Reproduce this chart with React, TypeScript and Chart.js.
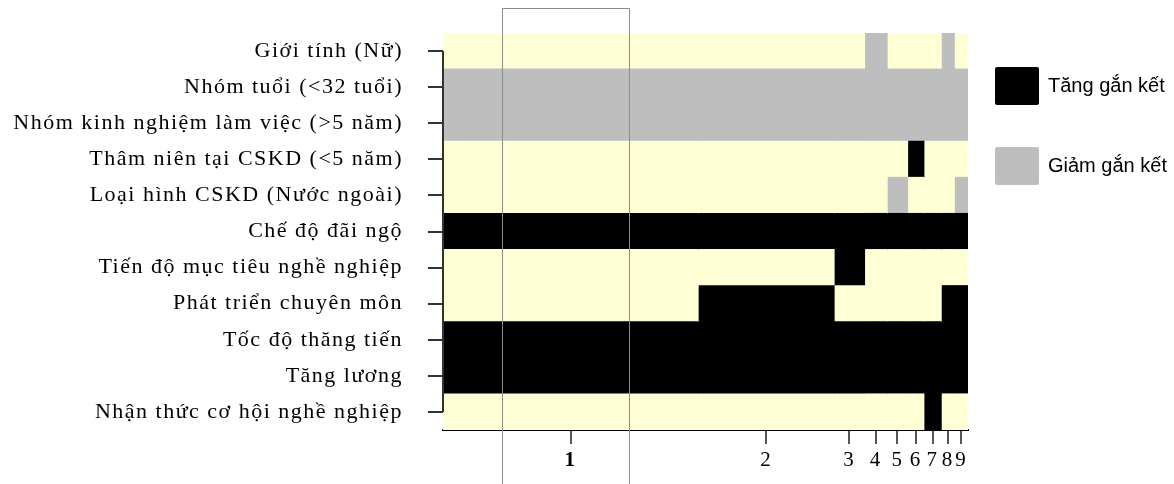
import React, { useEffect, useRef } from 'react';
import { Chart, registerables } from 'chart.js';

Chart.register(...registerables);

// ---- Data ----
const variableLabels = [
  'Giới tính (Nữ)',
  'Nhóm tuổi (<32 tuổi)',
  'Nhóm kinh nghiệm làm việc (>5 năm)',
  'Thâm niên tại CSKD (<5 năm)',
  'Loại hình CSKD (Nước ngoài)',
  'Chế độ đãi ngộ',
  'Tiến độ mục tiêu nghề nghiệp',
  'Phát triển chuyên môn',
  'Tốc độ thăng tiến',
  'Tăng lương',
  'Nhận thức cơ hội nghề nghiệp',
];

const modelLabels = ['1', '2', '3', '4', '5', '6', '7', '8', '9'];
// posterior probability (column width) of each model
const modelProbs = [0.486, 0.259, 0.058, 0.043, 0.039, 0.031, 0.033, 0.025, 0.026];

// 1 = positive (Tăng gắn kết), -1 = negative (Giảm gắn kết), 0 = not in model
const gioiTinh = [0, 0, 0, -1, 0, 0, 0, -1, 0];
const nhomTuoi = [-1, -1, -1, -1, -1, -1, -1, -1, -1];
const kinhNghiem = [-1, -1, -1, -1, -1, -1, -1, -1, -1];
const thamNien = [0, 0, 0, 0, 0, 1, 0, 0, 0];
const loaiHinh = [0, 0, 0, 0, -1, 0, 0, 0, -1];
const cheDoDaiNgo = [1, 1, 1, 1, 1, 1, 1, 1, 1];
const tienDoMucTieu = [0, 0, 1, 0, 0, 0, 0, 0, 0];
const phatTrienChuyenMon = [0, 1, 0, 0, 0, 0, 0, 1, 1];
const tocDoThangTien = [1, 1, 1, 1, 1, 1, 1, 1, 1];
const tangLuong = [1, 1, 1, 1, 1, 1, 1, 1, 1];
const nhanThucCoHoi = [0, 0, 0, 0, 0, 0, 1, 0, 0];

const effectRows = [
  gioiTinh, nhomTuoi, kinhNghiem, thamNien, loaiHinh, cheDoDaiNgo,
  tienDoMucTieu, phatTrienChuyenMon, tocDoThangTien, tangLuong, nhanThucCoHoi,
];

const legendLabels = ['Tăng gắn kết', 'Giảm gắn kết'];
const highlightRange = [0.1124, 0.354];

const COLOR_POS = '#000000';
const COLOR_NEG = '#BEBEBE';
const COLOR_NONE = '#FFFFD6';

const colorFor = (v: number) => (v > 0 ? COLOR_POS : v < 0 ? COLOR_NEG : COLOR_NONE);

export default function App() {
  const canvasRef = useRef<HTMLCanvasElement | null>(null);

  useEffect(() => {
    const canvas = canvasRef.current;
    if (!canvas) return;

    const cumStart: number[] = [];
    let acc = 0;
    modelProbs.forEach((p) => {
      cumStart.push(acc);
      acc += p;
    });
    const total = acc;
    const centers = modelProbs.map((p, i) => cumStart[i] + p / 2);

    const datasets = modelLabels.map((m, j) => ({
      label: 'Mô hình ' + m,
      data: effectRows.map(() => [cumStart[j], cumStart[j] + modelProbs[j]]),
      backgroundColor: effectRows.map((row) => colorFor(row[j])),
      borderWidth: 0,
      inflateAmount: 0.5,
      barPercentage: 1,
      categoryPercentage: 1,
      grouped: false,
    }));

    const decor = {
      id: 'decor',
      beforeDraw(chart: any) {
        chart.ctx.letterSpacing = '1.5px';
      },
      afterDraw(chart: any) {
        const ctx = chart.ctx as CanvasRenderingContext2D;
        const area = chart.chartArea;
        const ys = chart.scales.y;
        const xs = chart.scales.x;
        ctx.save();
        (ctx as any).letterSpacing = '0px';

        // R-style y axis line from first to last tick
        ctx.strokeStyle = '#333';
        ctx.lineWidth = 2;
        ctx.beginPath();
        ctx.moveTo(area.left, ys.getPixelForTick(0));
        ctx.lineTo(area.left, ys.getPixelForTick(variableLabels.length - 1));
        ctx.stroke();

        // highlight frame
        const x0 = Math.round(xs.getPixelForValue(highlightRange[0])) + 0.5;
        const x1 = Math.round(xs.getPixelForValue(highlightRange[1])) + 0.5;
        ctx.strokeStyle = '#8c8c8c';
        ctx.lineWidth = 1;
        ctx.beginPath();
        ctx.moveTo(x0, chart.height);
        ctx.lineTo(x0, 8.5);
        ctx.lineTo(x1, 8.5);
        ctx.lineTo(x1, chart.height);
        ctx.stroke();

        // legend
        const lx = area.right + 27;
        const items = [
          { text: legendLabels[0], color: COLOR_POS, y: 67 },
          { text: legendLabels[1], color: COLOR_NEG, y: 147 },
        ];
        ctx.font = '20px "Liberation Sans", Arial, sans-serif';
        ctx.textBaseline = 'middle';
        ctx.textAlign = 'left';
        items.forEach((it) => {
          ctx.fillStyle = it.color;
          ctx.beginPath();
          (ctx as any).roundRect(lx, it.y, 44, 38, 2);
          ctx.fill();
          ctx.fillStyle = '#000';
          ctx.fillText(it.text, lx + 53, it.y + 19);
        });
        ctx.restore();
      },
    };

    const chart = new Chart(canvas, {
      type: 'bar',
      data: { labels: variableLabels, datasets: datasets as any },
      options: {
        indexAxis: 'y',
        responsive: false,
        animation: false,
        layout: { padding: { top: 33, right: 206, left: 0, bottom: 0 } },
        plugins: {
          legend: { display: false },
          tooltip: { enabled: false },
        },
        scales: {
          x: {
            type: 'linear',
            min: 0,
            max: total,
            position: 'bottom',
            afterBuildTicks: (s: any) => {
              s.ticks = centers.map((v) => ({ value: v }));
            },
            afterFit: (s: any) => {
              s.height = 54;
              s.paddingLeft = 0;
              s.paddingRight = 0;
            },
            ticks: {
              autoSkip: false,
              maxRotation: 0,
              minRotation: 0,
              padding: 4,
              color: '#000',
              font: (ctx: any) => ({
                family: '"Liberation Serif", "Times New Roman", serif',
                size: 21,
                weight: ctx.index === 0 ? 'bold' : 'normal',
              }),
              callback: (_v: any, i: number) => modelLabels[i],
            },
            grid: {
              drawOnChartArea: false,
              drawTicks: true,
              tickLength: 14,
              color: '#555',
              lineWidth: 2,
            },
            border: { display: true, color: '#000', width: 2 },
          },
          y: {
            type: 'category',
            afterFit: (s: any) => {
              s.width = 443;
              s.paddingTop = 0;
              s.paddingBottom = 0;
            },
            ticks: {
              autoSkip: false,
              padding: 25,
              color: '#000',
              font: { family: '"Liberation Serif", "Times New Roman", serif', size: 22 },
            },
            grid: {
              offset: false,
              drawOnChartArea: false,
              drawTicks: true,
              tickLength: 15,
              color: '#333',
              lineWidth: 2,
            },
            border: { display: false },
          },
        },
      } as any,
      plugins: [decor],
    });

    return () => {
      chart.destroy();
    };
  }, []);

  return (
    <div style={{ position: 'absolute', left: 0, top: 0, width: 1174, height: 484, background: '#fff' }}>
      <canvas ref={canvasRef} width={1174} height={484} style={{ display: 'block' }} />
    </div>
  );
}
